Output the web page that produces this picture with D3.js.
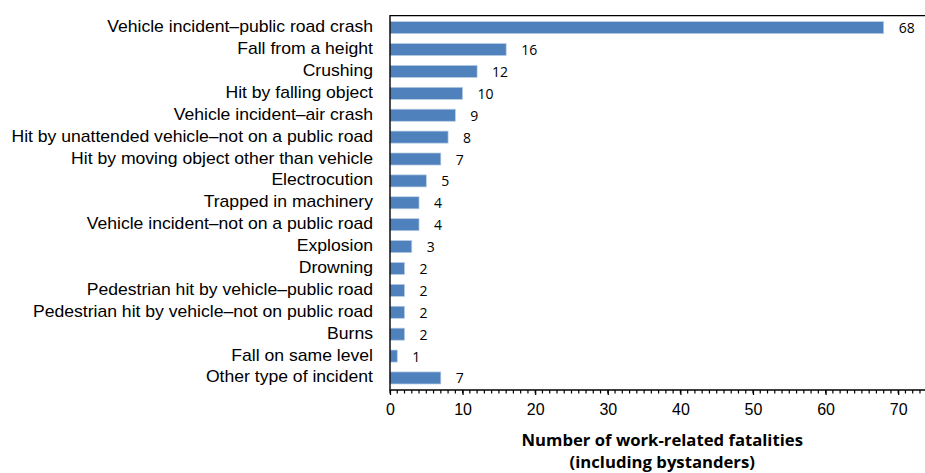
<!DOCTYPE html>
<html>
<head>
<meta charset="utf-8">
<script src="https://cdn.jsdelivr.net/npm/d3@7"></script>
<style>
  html, body { margin: 0; padding: 0; background: #fff; }
  svg { display: block; }
</style>
</head>
<body>
<svg id="chart" width="925" height="473"></svg>
<script>
const categories = [
  "Vehicle incident\u2013public road crash",
  "Fall from a height",
  "Crushing",
  "Hit by falling object",
  "Vehicle incident\u2013air crash",
  "Hit by unattended vehicle\u2013not on a public road",
  "Hit by moving object other than vehicle",
  "Electrocution",
  "Trapped in machinery",
  "Vehicle incident\u2013not on a public road",
  "Explosion",
  "Drowning",
  "Pedestrian hit by vehicle\u2013public road",
  "Pedestrian hit by vehicle\u2013not on public road",
  "Burns",
  "Fall on same level",
  "Other type of incident"
];
const values = [68, 16, 12, 10, 9, 8, 7, 5, 4, 4, 3, 2, 2, 2, 2, 1, 7];
const majorTicks = [0, 10, 20, 30, 40, 50, 60, 70];
const axisTitleLines = ["Number of work-related fatalities", "(including bystanders)"];

const svg = d3.select("#chart");
const plotLeft = 390, plotTop = 15.6, plotBottom = 390;
const xMax = 75, pxPerUnit = 7.26;

const x = d3.scaleLinear().domain([0, xMax]).range([plotLeft, plotLeft + xMax * pxPerUnit]);
const y = d3.scaleBand().domain(categories).range([plotTop, plotBottom]).paddingInner(0.45).paddingOuter(0.275);

// bars
svg.append("g").selectAll("rect").data(values).join("rect")
  .attr("x", x(0))
  .attr("y", (d, i) => y(categories[i]))
  .attr("width", d => x(d) - x(0))
  .attr("height", y.bandwidth())
  .attr("fill", "#4F81BD")
  .attr("stroke", "#B9CDE5")
  .attr("stroke-width", 0.7);

// value labels
svg.append("g").selectAll("text").data(values).join("text")
  .attr("x", d => x(d) + 15)
  .attr("y", (d, i) => y(categories[i]) + y.bandwidth() / 2 + 5.5)
  .attr("font-family", "'Open Sans', sans-serif")
  .attr("font-size", 14)
  .attr("fill", "#000")
  .text(d => d);

// category labels (y axis)
const yAxis = d3.axisLeft(y).tickSize(0).tickPadding(0);
const gy = svg.append("g").attr("transform", `translate(${plotLeft},0)`).call(yAxis);
gy.select(".domain").remove();
gy.selectAll(".tick text")
  .attr("x", 0)
  .attr("dy", null)
  .attr("y", 4.5)
  .attr("transform", "translate(-17,0) scale(1.1,1)")
  .attr("font-family", "'Liberation Sans', Arial, sans-serif")
  .attr("font-size", 16)
  .attr("fill", "#000");

// minor ticks
const minor = d3.range(0, xMax + 1);
const gx = svg.append("g").attr("transform", `translate(0,${plotBottom})`);
gx.selectAll("line.minor").data(minor).join("line")
  .attr("class", "minor")
  .attr("x1", d => x(d)).attr("x2", d => x(d))
  .attr("y1", 0).attr("y2", 3.5)
  .attr("stroke", "#000").attr("stroke-width", 1.2);

const xAxis = d3.axisBottom(x).tickValues(majorTicks).tickSize(5).tickPadding(9).tickFormat(d3.format("d"));
gx.call(xAxis);
gx.select(".domain").remove();
gx.selectAll(".tick line").attr("stroke", "#000").attr("stroke-width", 1.2);
gx.selectAll(".tick text")
  .attr("font-family", "'Liberation Sans', Arial, sans-serif")
  .attr("font-size", 16)
  .attr("fill", "#000");

// frame: top, left, bottom
const plotRight = x(xMax);
svg.append("path")
  .attr("d", `M${plotRight},${plotTop} H${plotLeft} V${plotBottom} H${plotRight}`)
  .attr("fill", "none")
  .attr("stroke", "#000")
  .attr("stroke-width", 1.4);

// axis title
const titleX = (plotLeft + plotRight) / 2;
svg.append("g").selectAll("text").data(axisTitleLines).join("text")
  .attr("x", titleX)
  .attr("y", (d, i) => 445.5 + i * 22.5)
  .attr("text-anchor", "middle")
  .attr("font-family", "'Open Sans', sans-serif")
  .attr("font-weight", "bold")
  .attr("font-size", 16.7)
  .attr("fill", "#000")
  .text(d => d);
</script>
</body>
</html>
